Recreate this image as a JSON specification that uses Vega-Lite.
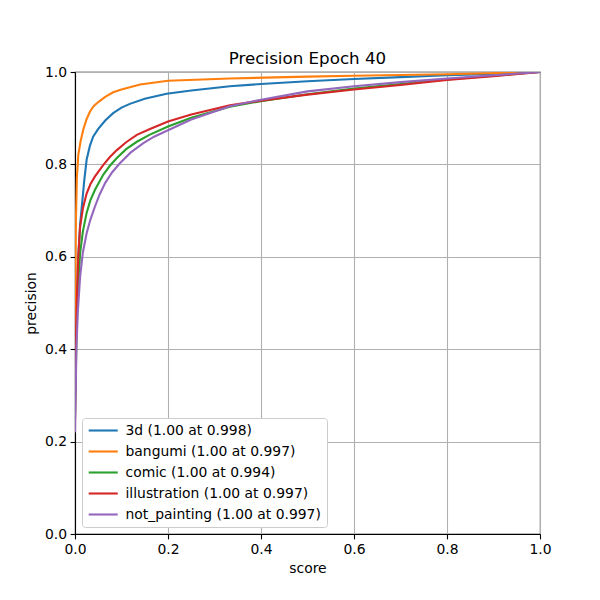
{
  "$schema": "https://vega.github.io/schema/vega-lite/v6.json",
  "width": 465,
  "height": 462,
  "autosize": "none",
  "padding": {"left": 75, "top": 72, "right": 60, "bottom": 66},
  "background": "white",
  "title": {"text": "Precision Epoch 40", "fontSize": 16.7, "font": "DejaVu Sans", "fontWeight": "normal", "color": "black", "anchor": "middle", "frame": "group", "offset": -3},
  "config": {
    "view": {"stroke": "black", "strokeWidth": 1.1},
    "font": "DejaVu Sans",
    "axis": {"labelFont": "DejaVu Sans", "titleFont": "DejaVu Sans", "labelFontSize": 13.9, "titleFontSize": 13.9, "titleFontWeight": "normal", "labelColor": "black", "titleColor": "black", "domainColor": "black", "domainWidth": 1.1, "tickColor": "black", "tickWidth": 1.1, "tickSize": 4.9, "labelPadding": 3.5, "gridColor": "#b0b0b0", "gridWidth": 1.1, "gridOpacity": 1}
  },
  "data": {"values": [
    {"s":"3d (1.00 at 0.998)","x":0,"y":0.3},{"s":"3d (1.00 at 0.998)","x":0.003,"y":0.47},{"s":"3d (1.00 at 0.998)","x":0.0065,"y":0.59},{"s":"3d (1.00 at 0.998)","x":0.011,"y":0.67},{"s":"3d (1.00 at 0.998)","x":0.016,"y":0.723},{"s":"3d (1.00 at 0.998)","x":0.02,"y":0.766},{"s":"3d (1.00 at 0.998)","x":0.025,"y":0.81},{"s":"3d (1.00 at 0.998)","x":0.032,"y":0.84},{"s":"3d (1.00 at 0.998)","x":0.039,"y":0.86},{"s":"3d (1.00 at 0.998)","x":0.05,"y":0.877},{"s":"3d (1.00 at 0.998)","x":0.065,"y":0.895},{"s":"3d (1.00 at 0.998)","x":0.082,"y":0.911},{"s":"3d (1.00 at 0.998)","x":0.1,"y":0.923},{"s":"3d (1.00 at 0.998)","x":0.118,"y":0.931},{"s":"3d (1.00 at 0.998)","x":0.15,"y":0.942},{"s":"3d (1.00 at 0.998)","x":0.197,"y":0.953},{"s":"3d (1.00 at 0.998)","x":0.25,"y":0.96},{"s":"3d (1.00 at 0.998)","x":0.333,"y":0.969},{"s":"3d (1.00 at 0.998)","x":0.4,"y":0.974},{"s":"3d (1.00 at 0.998)","x":0.5,"y":0.98},{"s":"3d (1.00 at 0.998)","x":0.6,"y":0.985},{"s":"3d (1.00 at 0.998)","x":0.7,"y":0.989},{"s":"3d (1.00 at 0.998)","x":0.8,"y":0.993},{"s":"3d (1.00 at 0.998)","x":0.9,"y":0.996},{"s":"3d (1.00 at 0.998)","x":1.0,"y":1.0},
    {"s":"bangumi (1.00 at 0.997)","x":0,"y":0.35},{"s":"bangumi (1.00 at 0.997)","x":0.001,"y":0.55},{"s":"bangumi (1.00 at 0.997)","x":0.002,"y":0.68},{"s":"bangumi (1.00 at 0.997)","x":0.004,"y":0.77},{"s":"bangumi (1.00 at 0.997)","x":0.007,"y":0.82},{"s":"bangumi (1.00 at 0.997)","x":0.012,"y":0.85},{"s":"bangumi (1.00 at 0.997)","x":0.018,"y":0.876},{"s":"bangumi (1.00 at 0.997)","x":0.025,"y":0.898},{"s":"bangumi (1.00 at 0.997)","x":0.032,"y":0.914},{"s":"bangumi (1.00 at 0.997)","x":0.04,"y":0.926},{"s":"bangumi (1.00 at 0.997)","x":0.05,"y":0.935},{"s":"bangumi (1.00 at 0.997)","x":0.065,"y":0.946},{"s":"bangumi (1.00 at 0.997)","x":0.082,"y":0.956},{"s":"bangumi (1.00 at 0.997)","x":0.1,"y":0.962},{"s":"bangumi (1.00 at 0.997)","x":0.14,"y":0.973},{"s":"bangumi (1.00 at 0.997)","x":0.2,"y":0.981},{"s":"bangumi (1.00 at 0.997)","x":0.333,"y":0.986},{"s":"bangumi (1.00 at 0.997)","x":0.5,"y":0.99},{"s":"bangumi (1.00 at 0.997)","x":0.6,"y":0.992},{"s":"bangumi (1.00 at 0.997)","x":0.8,"y":0.995},{"s":"bangumi (1.00 at 0.997)","x":1.0,"y":1.0},
    {"s":"comic (1.00 at 0.994)","x":0,"y":0.25},{"s":"comic (1.00 at 0.994)","x":0.003,"y":0.42},{"s":"comic (1.00 at 0.994)","x":0.006,"y":0.52},{"s":"comic (1.00 at 0.994)","x":0.011,"y":0.608},{"s":"comic (1.00 at 0.994)","x":0.017,"y":0.655},{"s":"comic (1.00 at 0.994)","x":0.025,"y":0.695},{"s":"comic (1.00 at 0.994)","x":0.033,"y":0.722},{"s":"comic (1.00 at 0.994)","x":0.043,"y":0.745},{"s":"comic (1.00 at 0.994)","x":0.061,"y":0.778},{"s":"comic (1.00 at 0.994)","x":0.075,"y":0.797},{"s":"comic (1.00 at 0.994)","x":0.09,"y":0.814},{"s":"comic (1.00 at 0.994)","x":0.11,"y":0.833},{"s":"comic (1.00 at 0.994)","x":0.133,"y":0.849},{"s":"comic (1.00 at 0.994)","x":0.16,"y":0.864},{"s":"comic (1.00 at 0.994)","x":0.2,"y":0.882},{"s":"comic (1.00 at 0.994)","x":0.25,"y":0.901},{"s":"comic (1.00 at 0.994)","x":0.333,"y":0.925},{"s":"comic (1.00 at 0.994)","x":0.4,"y":0.937},{"s":"comic (1.00 at 0.994)","x":0.5,"y":0.952},{"s":"comic (1.00 at 0.994)","x":0.6,"y":0.964},{"s":"comic (1.00 at 0.994)","x":0.7,"y":0.974},{"s":"comic (1.00 at 0.994)","x":0.8,"y":0.984},{"s":"comic (1.00 at 0.994)","x":0.9,"y":0.992},{"s":"comic (1.00 at 0.994)","x":1.0,"y":1.0},
    {"s":"illustration (1.00 at 0.997)","x":0,"y":0.25},{"s":"illustration (1.00 at 0.997)","x":0.002,"y":0.42},{"s":"illustration (1.00 at 0.997)","x":0.004,"y":0.506},{"s":"illustration (1.00 at 0.997)","x":0.007,"y":0.6},{"s":"illustration (1.00 at 0.997)","x":0.011,"y":0.665},{"s":"illustration (1.00 at 0.997)","x":0.017,"y":0.705},{"s":"illustration (1.00 at 0.997)","x":0.025,"y":0.737},{"s":"illustration (1.00 at 0.997)","x":0.033,"y":0.757},{"s":"illustration (1.00 at 0.997)","x":0.043,"y":0.774},{"s":"illustration (1.00 at 0.997)","x":0.061,"y":0.799},{"s":"illustration (1.00 at 0.997)","x":0.075,"y":0.816},{"s":"illustration (1.00 at 0.997)","x":0.09,"y":0.831},{"s":"illustration (1.00 at 0.997)","x":0.11,"y":0.848},{"s":"illustration (1.00 at 0.997)","x":0.133,"y":0.864},{"s":"illustration (1.00 at 0.997)","x":0.16,"y":0.876},{"s":"illustration (1.00 at 0.997)","x":0.2,"y":0.893},{"s":"illustration (1.00 at 0.997)","x":0.25,"y":0.908},{"s":"illustration (1.00 at 0.997)","x":0.333,"y":0.928},{"s":"illustration (1.00 at 0.997)","x":0.4,"y":0.938},{"s":"illustration (1.00 at 0.997)","x":0.5,"y":0.951},{"s":"illustration (1.00 at 0.997)","x":0.6,"y":0.962},{"s":"illustration (1.00 at 0.997)","x":0.7,"y":0.972},{"s":"illustration (1.00 at 0.997)","x":0.8,"y":0.983},{"s":"illustration (1.00 at 0.997)","x":0.9,"y":0.991},{"s":"illustration (1.00 at 0.997)","x":1.0,"y":1.0},
    {"s":"not_painting (1.00 at 0.997)","x":0,"y":0.22},{"s":"not_painting (1.00 at 0.997)","x":0.003,"y":0.4},{"s":"not_painting (1.00 at 0.997)","x":0.006,"y":0.48},{"s":"not_painting (1.00 at 0.997)","x":0.011,"y":0.557},{"s":"not_painting (1.00 at 0.997)","x":0.017,"y":0.61},{"s":"not_painting (1.00 at 0.997)","x":0.025,"y":0.651},{"s":"not_painting (1.00 at 0.997)","x":0.033,"y":0.68},{"s":"not_painting (1.00 at 0.997)","x":0.043,"y":0.709},{"s":"not_painting (1.00 at 0.997)","x":0.053,"y":0.735},{"s":"not_painting (1.00 at 0.997)","x":0.065,"y":0.76},{"s":"not_painting (1.00 at 0.997)","x":0.08,"y":0.783},{"s":"not_painting (1.00 at 0.997)","x":0.097,"y":0.803},{"s":"not_painting (1.00 at 0.997)","x":0.12,"y":0.826},{"s":"not_painting (1.00 at 0.997)","x":0.147,"y":0.846},{"s":"not_painting (1.00 at 0.997)","x":0.17,"y":0.86},{"s":"not_painting (1.00 at 0.997)","x":0.2,"y":0.874},{"s":"not_painting (1.00 at 0.997)","x":0.25,"y":0.897},{"s":"not_painting (1.00 at 0.997)","x":0.333,"y":0.926},{"s":"not_painting (1.00 at 0.997)","x":0.4,"y":0.94},{"s":"not_painting (1.00 at 0.997)","x":0.5,"y":0.958},{"s":"not_painting (1.00 at 0.997)","x":0.6,"y":0.969},{"s":"not_painting (1.00 at 0.997)","x":0.7,"y":0.978},{"s":"not_painting (1.00 at 0.997)","x":0.8,"y":0.986},{"s":"not_painting (1.00 at 0.997)","x":0.9,"y":0.993},{"s":"not_painting (1.00 at 0.997)","x":1.0,"y":1.0}
  ]},
  "mark": {"type": "line", "strokeWidth": 2.1, "clip": true},
  "encoding": {
    "x": {"field": "x", "type": "quantitative", "scale": {"domain": [0, 1], "nice": false, "zero": false}, "axis": {"title": "score", "values": [0, 0.2, 0.4, 0.6, 0.8, 1.0], "format": ".1f", "labelFlush": false, "titlePadding": 5}},
    "y": {"field": "y", "type": "quantitative", "scale": {"domain": [0, 1], "nice": false, "zero": false}, "axis": {"title": "precision", "values": [0, 0.2, 0.4, 0.6, 0.8, 1.0], "format": ".1f", "labelFlush": false, "titlePadding": 6}},
    "color": {"field": "s", "type": "nominal", "sort": null,
      "scale": {"domain": ["3d (1.00 at 0.998)", "bangumi (1.00 at 0.997)", "comic (1.00 at 0.994)", "illustration (1.00 at 0.997)", "not_painting (1.00 at 0.997)"], "range": ["#1f77b4", "#ff7f0e", "#2ca02c", "#d62728", "#9467bd"]},
      "legend": {"title": null, "orient": "none", "legendX": 7, "legendY": 346, "symbolType": "M-1,0H4", "symbolSize": 135, "symbolStrokeWidth": 2.1, "labelFontSize": 13.9, "labelFont": "DejaVu Sans", "labelColor": "black", "labelOffset": 24, "rowPadding": 7, "padding": 5.5, "fillColor": "white", "strokeColor": "#cccccc", "cornerRadius": 3, "labelLimit": 400}
    },
    "order": {"field": "x", "type": "quantitative"}
  }
}
